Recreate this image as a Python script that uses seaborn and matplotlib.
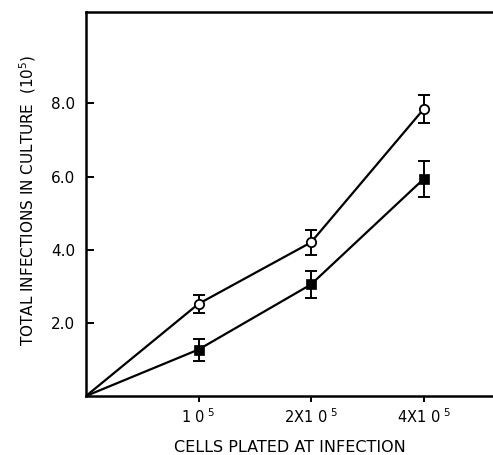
import matplotlib
matplotlib.use("Agg")
import matplotlib.pyplot as plt
import seaborn as sns
import numpy as np
import pandas as pd

# data
x_labels = [r"1 0$^{\ 5}$", r"2X1 0$^{\ 5}$", r"4X1 0$^{\ 5}$"]
x_pos = [0, 1, 2, 3]  # 0 = origin, then the three categories
open_vals = [0.0, 2.52, 4.20, 7.84]
open_err = [0.0, 0.25, 0.35, 0.38]
filled_vals = [0.0, 1.27, 3.05, 5.93]
filled_err = [0.0, 0.30, 0.38, 0.49]
y_ticks = [2.0, 4.0, 6.0, 8.0]

df = pd.DataFrame({
    "x": x_pos * 2,
    "y": open_vals + filled_vals,
    "err": open_err + filled_err,
    "series": ["open"] * 4 + ["filled"] * 4,
})

sns.set_theme(style="white")
plt.rcParams["font.family"] = ["DejaVu Sans"]
plt.rcParams["text.color"] = "black"
plt.rcParams["axes.labelcolor"] = "black"
plt.rcParams["xtick.color"] = "black"
plt.rcParams["ytick.color"] = "black"

fig = plt.figure(figsize=(4.93, 4.55), dpi=100)
ax = fig.add_axes([86 / 493, 1 - 396 / 455, 440 / 493, (396 - 12) / 455])

for s in ["open", "filled"]:
    sub = df[df.series == s]
    sns.lineplot(data=sub, x="x", y="y", ax=ax, color="black", lw=1.6,
                 legend=False, zorder=2)
    pts = sub[sub.x > 0]
    ax.errorbar(pts.x, pts.y, yerr=pts.err, fmt="none", ecolor="black",
                elinewidth=1.4, capsize=4, capthick=1.4, zorder=3)

op = df[(df.series == "open") & (df.x > 0)]
fp = df[(df.series == "filled") & (df.x > 0)]
sns.scatterplot(data=op, x="x", y="y", ax=ax, marker="o", s=45,
                facecolor="white", edgecolor="black", linewidth=1.3,
                zorder=4, legend=False)
sns.scatterplot(data=fp, x="x", y="y", ax=ax, marker="s", s=55,
                color="black", edgecolor="black", linewidth=0.5,
                zorder=4, legend=False)

ax.set_xlim(0, 440 / 112.5)
ax.set_ylim(0, 10.5)
ax.set_xticks([1, 2, 3])
ax.set_xticklabels(x_labels, fontsize=10.5)
ax.set_yticks(y_ticks)
ax.set_yticklabels([f"{v:.1f}" for v in y_ticks], fontsize=11)
ax.tick_params(axis="y", direction="in", length=6, width=1.4, pad=8,
               left=True, colors="black")
ax.tick_params(axis="x", direction="out", length=4, width=1.4, pad=4,
               bottom=True, colors="black")
for sp in ax.spines.values():
    sp.set_color("black")
    sp.set_linewidth(1.8)

ax.set_xlabel("CELLS PLATED AT INFECTION", fontsize=11.5, color="black")
ax.xaxis.set_label_coords((290 - 86) / 440, -(448 - 396) / 384)
ax.xaxis.label.set_va("center")
ax.set_ylabel(r"TOTAL INFECTIONS IN CULTURE  (10$^{5}$)", fontsize=11,
              color="black")
ax.yaxis.set_label_coords(-(86 - 28) / 440, (396 - 200) / 384)
ax.yaxis.label.set_va("center")

fig.savefig("out.png", dpi=100)
